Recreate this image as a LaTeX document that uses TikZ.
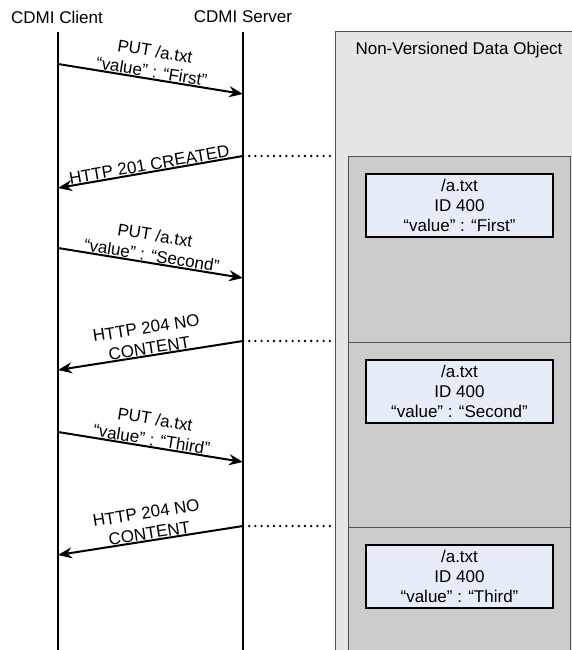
\documentclass[tikz,border=0pt]{standalone}
\usepackage{fontspec}
\setmainfont{Liberation Sans}
\usepackage{xcolor}
\usepackage{tikz}
\usetikzlibrary{arrows.meta, positioning}
\definecolor{panelgray}{RGB}{230,230,230}
\definecolor{slotgray}{RGB}{204,204,204}
\definecolor{edgegray}{RGB}{80,80,80}
\definecolor{versionblue}{RGB}{230,237,248}
\tikzset{
    lifeline/.style={line width=2.5pt},
    msg/.style={-{Stealth[length=14pt,width=11pt]}, line width=2pt},
    link/.style={line width=2.6pt, line cap=round, dash pattern=on 0pt off 6.2pt},
    msglabel/.style={sloped, above, align=center, inner sep=0.5pt, font=\fontsize{17}{20.5}\selectfont},
    title/.style={font=\fontsize{17}{20}\selectfont, inner sep=0pt},
    version/.style={rectangle, draw, line width=2pt, fill=versionblue, minimum width=187pt, minimum height=63pt, inner sep=1pt, align=center, font=\fontsize{17}{20}\selectfont}
}
\begin{document}
\begin{tikzpicture}[x=1pt, y=-1pt]
    \useasboundingbox (0,0) rectangle (572,650);

    % Data object panel
    \path[fill=panelgray, draw=edgegray, line width=1pt] (335,32) rectangle (590,670);
    \path[fill=slotgray, draw=edgegray, line width=1pt] (348,156) rectangle (570,670);
    \draw[edgegray, line width=1pt] (348,342) -- (570,342);
    \draw[edgegray, line width=1pt] (348,527) -- (570,527);
    \node[title] (object) at (459,50) {Non-Versioned Data Object};

    % Versions
    \node[version] (first) at (459.5,205.5) {/a.txt\\ ID 400\\ “value” : “First”};
    \node[version] (second) at (459.5,391) {/a.txt\\ ID 400\\ “value” : “Second”};
    \node[version] (third) at (459.5,576) {/a.txt\\ ID 400\\ “value” : “Third”};

    % Lifelines
    \node[title] (client) at (57,17) {CDMI Client};
    \node[title] (server) at (243,17) {CDMI Server};
    \coordinate (ctop) at (58,32);
    \coordinate (cbot) at (58,650);
    \coordinate (stop) at (243,32);
    \coordinate (sbot) at (243,650);
    \draw[lifeline] (ctop) -- (cbot);
    \draw[lifeline] (stop) -- (sbot);

    % Message ends
    \coordinate (c1) at (58,64);   \coordinate (s1) at (243,94);
    \coordinate (s2) at (243,156); \coordinate (c2) at (58,188);
    \coordinate (c3) at (58,248);  \coordinate (s3) at (243,278);
    \coordinate (s4) at (243,341); \coordinate (c4) at (58,370);
    \coordinate (c5) at (58,432);  \coordinate (s5) at (243,462);
    \coordinate (s6) at (243,526); \coordinate (c6) at (58,555);
    \coordinate (d2) at (335,156);
    \coordinate (d4) at (335,341);
    \coordinate (d6) at (335,526);

    % Messages
    \draw[msg] (c1) -- (s1) node[msglabel, midway] {PUT /a.txt\\ “value” : “First”};
    \draw[msg] (s2) -- (c2) node[msglabel, midway] {HTTP 201 CREATED};
    \draw[msg] (c3) -- (s3) node[msglabel, midway] {PUT /a.txt\\ “value” : “Second”};
    \draw[msg] (s4) -- (c4) node[msglabel, midway] {HTTP 204 NO\\ CONTENT};
    \draw[msg] (c5) -- (s5) node[msglabel, midway] {PUT /a.txt\\ “value” : “Third”};
    \draw[msg] (s6) -- (c6) node[msglabel, midway] {HTTP 204 NO\\ CONTENT};

    % Links to versions
    \draw[link] (s2) -- (d2);
    \draw[link] (s4) -- (d4);
    \draw[link] (s6) -- (d6);
\end{tikzpicture}
\end{document}
